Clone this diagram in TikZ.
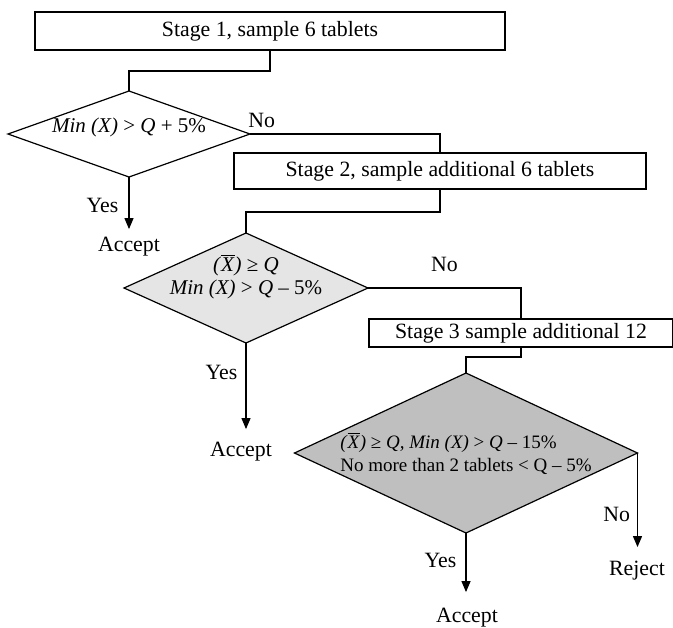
\documentclass[tikz,border=0pt]{standalone}
\usepackage{fontspec}
\setmainfont{Liberation Serif}
\usetikzlibrary{arrows.meta,positioning,shapes.geometric}
% text set inside a diamond without changing its size
\newcommand{\dtxt}[3][c]{\makebox[0pt]{\raisebox{#2}[0pt][0pt]{\begin{tabular}{@{}#1@{}}#3\end{tabular}}}}
\newcommand{\xbar}{\textit{(}$\overline{\hbox{\textit{X}}}$\textit{)}}
\tikzset{
%Define standard arrow tip
    >={Triangle[length=5.5pt,width=4.5pt]},
%Define style for stage boxes
    stage/.style={
           rectangle,
           draw=black, line width=0.6pt,
           fill=white,
           inner sep=0pt, outer sep=0pt,
           font=\fontsize{10.9}{12.5}\selectfont},
%Define style for decision diamonds
    check/.style={
           diamond,
           draw=black, line width=0.6pt,
           inner sep=0pt, outer sep=0pt,
           font=\fontsize{10.5}{11}\selectfont},
%Define style for outcomes and branch labels
    tag/.style={
           inner sep=0pt,
           font=\fontsize{10.9}{12.5}\selectfont},
% Define connector styles
    link/.style={
           line width=0.6pt},
    arr/.style={
           ->,
           line width=0.6pt}
}
\begin{document}
\begin{tikzpicture}[x=0.5pt, y=-0.5pt]
 \useasboundingbox (0,0) rectangle (673,627);
 \node [stage, minimum width=235pt, minimum height=19pt] (s1) at (270,31) {Stage 1, sample 6 tablets};
 \node [check, minimum width=121pt, minimum height=43pt] (d1) at (129,134) {\dtxt{0pt}{\textit{Min (X)} > \textit{Q} + 5\%}};
 \node [stage, minimum width=206pt, minimum height=18pt] (s2) at (440,171) {Stage 2, sample additional 6 tablets};
 \node [check, fill=gray!20, minimum width=122pt, minimum height=55pt] (d2) at (246,288) {\dtxt{2.5pt}{\xbar{} ≥ \textit{Q}\\[0.3pt] \textit{Min (X)} > \textit{Q} – 5\%}};
 \node [stage, minimum width=152pt, minimum height=14pt] (s3) at (521,333) {Stage 3 sample additional 12};
 \node [check, fill=black!25, minimum width=171.5pt, minimum height=80pt, font=\fontsize{9.5}{11.5}\selectfont] (d3) at (466,453) {\dtxt[l]{-3.3pt}{\xbar{} ≥ \textit{Q, Min (X)} > \textit{Q} – 15\%\\ No more than 2 tablets < Q – 5\%}};
 \node [tag] (acc1) at (129,247) {Accept};
 \node [tag] (acc2) at (241,452) {Accept};
 \node [tag] (acc3) at (467,618) {Accept};
 \node [tag] (rej) at (637,571) {Reject};
 \draw[link] (s1.south) -- ++(0,21) -| (d1.north);
 \draw[link] (d1.east) -| (s2.north);
 \node [tag, above right=3pt and -1pt of d1.east] (no1) {No};
 \draw[link] (s2.south) -- ++(0,23) -| (d2.north);
 \draw[link] (d2.east) -| node[tag, pos=0.25, above=8pt] (no2) {No} (s3.north);
 \draw[link] (s3.south) -- ++(0,10) -| (d3.north);
 \draw[arr, shorten >=4pt] (d1.south) -- node[tag, pos=0.48, left=5pt] (yes1) {Yes} (d1.south |- acc1.north);
 \draw[arr, shorten >=6.5pt] (d2.south) -- node[tag, pos=0.3, left=4pt] (yes2) {Yes} (d2.south |- acc2.north);
 \draw[arr, shorten >=8pt] (d3.south) -- node[tag, pos=0.36, left=4.5pt] (yes3) {Yes} (d3.south |- acc3.north);
 \draw[arr, shorten >=7pt] (d3.east) -- node[tag, pos=0.57, left=3.5pt] (no3) {No} (d3.east |- rej.north);
\end{tikzpicture}
\end{document}
